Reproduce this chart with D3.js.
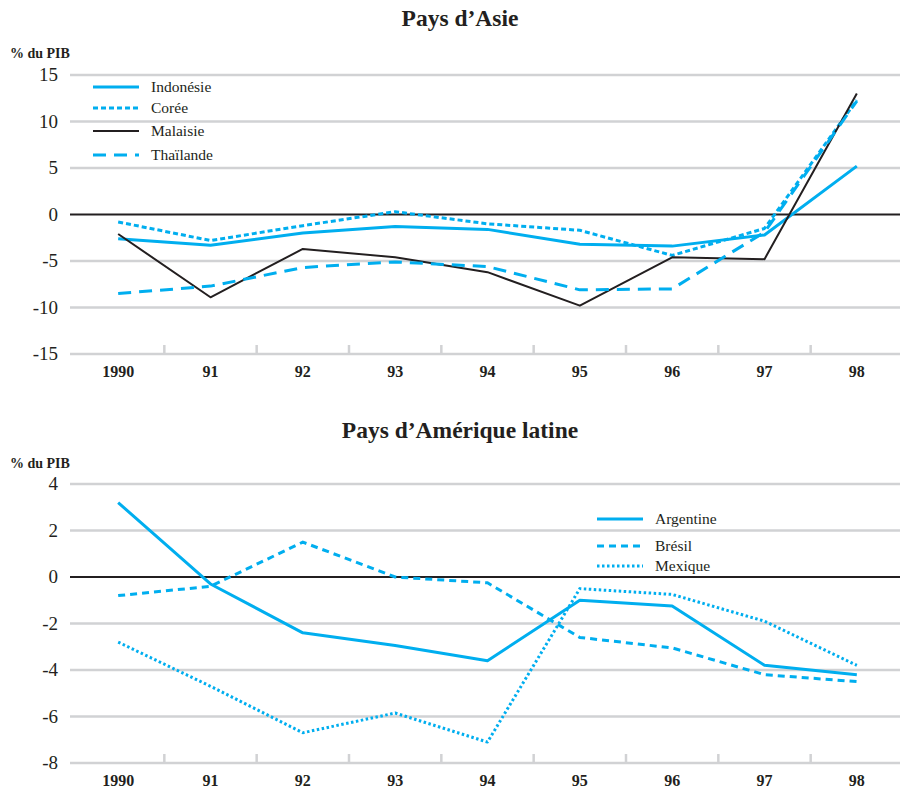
<!DOCTYPE html>
<html>
<head>
<meta charset="utf-8">
<script src="https://cdn.jsdelivr.net/npm/d3@7"></script>
<style>
  body { margin: 0; background: #fff; }
</style>
</head>
<body>
<div id="chart"></div>
<script>
const years = ["1990", "91", "92", "93", "94", "95", "96", "97", "98"];

// Asie, % du PIB
const indonesie = [-2.6, -3.3, -2.0, -1.3, -1.6, -3.2, -3.4, -2.2, 5.2];
const coree     = [-0.8, -2.8, -1.2, 0.3, -1.0, -1.7, -4.4, -1.5, 12.3];
const malaisie  = [-2.1, -8.9, -3.7, -4.6, -6.2, -9.8, -4.6, -4.8, 13.0];
const thailande = [-8.5, -7.7, -5.7, -5.1, -5.6, -8.1, -8.0, -1.9, 12.2];
const asiaTicks = [15, 10, 5, 0, -5, -10, -15];

// Amérique latine, % du PIB
const argentine = [3.2, -0.3, -2.4, -2.95, -3.6, -1.0, -1.25, -3.8, -4.2];
const bresil    = [-0.8, -0.4, 1.5, 0.0, -0.25, -2.6, -3.05, -4.2, -4.5];
const mexique   = [-2.8, -4.7, -6.7, -5.85, -7.1, -0.5, -0.75, -1.9, -3.8];
const latamTicks = [4, 2, 0, -2, -4, -6, -8];

const blue = "#00aeef";
const ink = "#231f20";
const styles = {
  solid:  { color: blue, width: 3, dash: null },
  shortd: { color: blue, width: 3, dash: "5,3" },
  black:  { color: ink, width: 2, dash: null },
  longd:  { color: blue, width: 3, dash: "13,8" },
  medd:   { color: blue, width: 3, dash: "7,5" },
  dots:   { color: blue, width: 3, dash: "2.5,2.5" }
};

const svg = d3.select("#chart").append("svg")
  .attr("width", 900).attr("height", 790)
  .attr("font-family", "'Liberation Serif', 'Times New Roman', serif");

function panel(opts) {
  const g = svg.append("g").attr("fill", ink);
  const x = d3.scaleBand().domain(years).range([72, 903]);
  const y = d3.scaleLinear().domain(opts.domain).range(opts.range);

  g.append("text").attr("x", 460).attr("y", opts.titleY)
    .attr("text-anchor", "middle").attr("font-size", 23.5).attr("font-weight", "bold")
    .text(opts.title);
  g.append("text").attr("x", 10).attr("y", opts.unitY)
    .attr("font-size", 14).attr("font-weight", "bold").text("% du PIB");

  // grid
  g.selectAll(".grid").data(opts.ticks.filter(t => t !== 0)).enter().append("line")
    .attr("x1", 70).attr("x2", 900)
    .attr("y1", d => y(d)).attr("y2", d => y(d))
    .attr("stroke", "#d1d2d4").attr("stroke-width", 2.5);
  g.append("line").attr("x1", 70).attr("x2", 900)
    .attr("y1", y(0)).attr("y2", y(0))
    .attr("stroke", ink).attr("stroke-width", 1.8);

  // tick marks on bottom axis
  const bottom = y(opts.domain[0]);
  g.selectAll(".tk").data(years.slice(1)).enter().append("line")
    .attr("x1", d => x(d)).attr("x2", d => x(d))
    .attr("y1", bottom).attr("y2", bottom - 9)
    .attr("stroke", "#d1d2d4").attr("stroke-width", 2.5);

  g.selectAll(".yl").data(opts.ticks).enter().append("text")
    .attr("x", 58).attr("y", d => y(d) + 6)
    .attr("text-anchor", "end").attr("font-size", 19)
    .text(d => d);
  g.selectAll(".xl").data(years).enter().append("text")
    .attr("x", d => x(d) + x.bandwidth() / 2).attr("y", bottom + 23)
    .attr("text-anchor", "middle").attr("font-size", 16).attr("font-weight", "bold")
    .text(d => d);

  const line = d3.line().x((d, i) => x(years[i]) + x.bandwidth() / 2).y(d => y(d));
  opts.series.forEach(s => {
    const st = styles[s.style];
    g.append("path").datum(s.values)
      .attr("d", line).attr("fill", "none")
      .attr("stroke", st.color).attr("stroke-width", st.width)
      .attr("stroke-dasharray", st.dash)
      .attr("stroke-linejoin", "round");
  });

  // legend
  opts.series.forEach((s, i) => {
    const st = styles[s.style];
    const ly = opts.legend.y[i];
    g.append("line").attr("x1", opts.legend.x).attr("x2", opts.legend.x + 46)
      .attr("y1", ly).attr("y2", ly)
      .attr("stroke", st.color).attr("stroke-width", st.width)
      .attr("stroke-dasharray", st.dash);
    g.append("text").attr("x", opts.legend.x + 58).attr("y", ly + 5)
      .attr("font-size", 15.5).text(s.name);
  });
}

panel({
  title: "Pays d\u2019Asie", titleY: 26, unitY: 58,
  domain: [-15, 15], range: [354, 75], ticks: asiaTicks,
  series: [
    { name: "Indonésie", values: indonesie, style: "solid" },
    { name: "Corée", values: coree, style: "shortd" },
    { name: "Malaisie", values: malaisie, style: "black" },
    { name: "Thaïlande", values: thailande, style: "longd" }
  ],
  legend: { x: 93, y: [87, 108, 131, 155] }
});

panel({
  title: "Pays d\u2019Amérique latine", titleY: 438, unitY: 468,
  domain: [-8, 4], range: [763, 484], ticks: latamTicks,
  series: [
    { name: "Argentine", values: argentine, style: "solid" },
    { name: "Brésil", values: bresil, style: "medd" },
    { name: "Mexique", values: mexique, style: "dots" }
  ],
  legend: { x: 597, y: [519, 546, 566] }
});
</script>
</body>
</html>
